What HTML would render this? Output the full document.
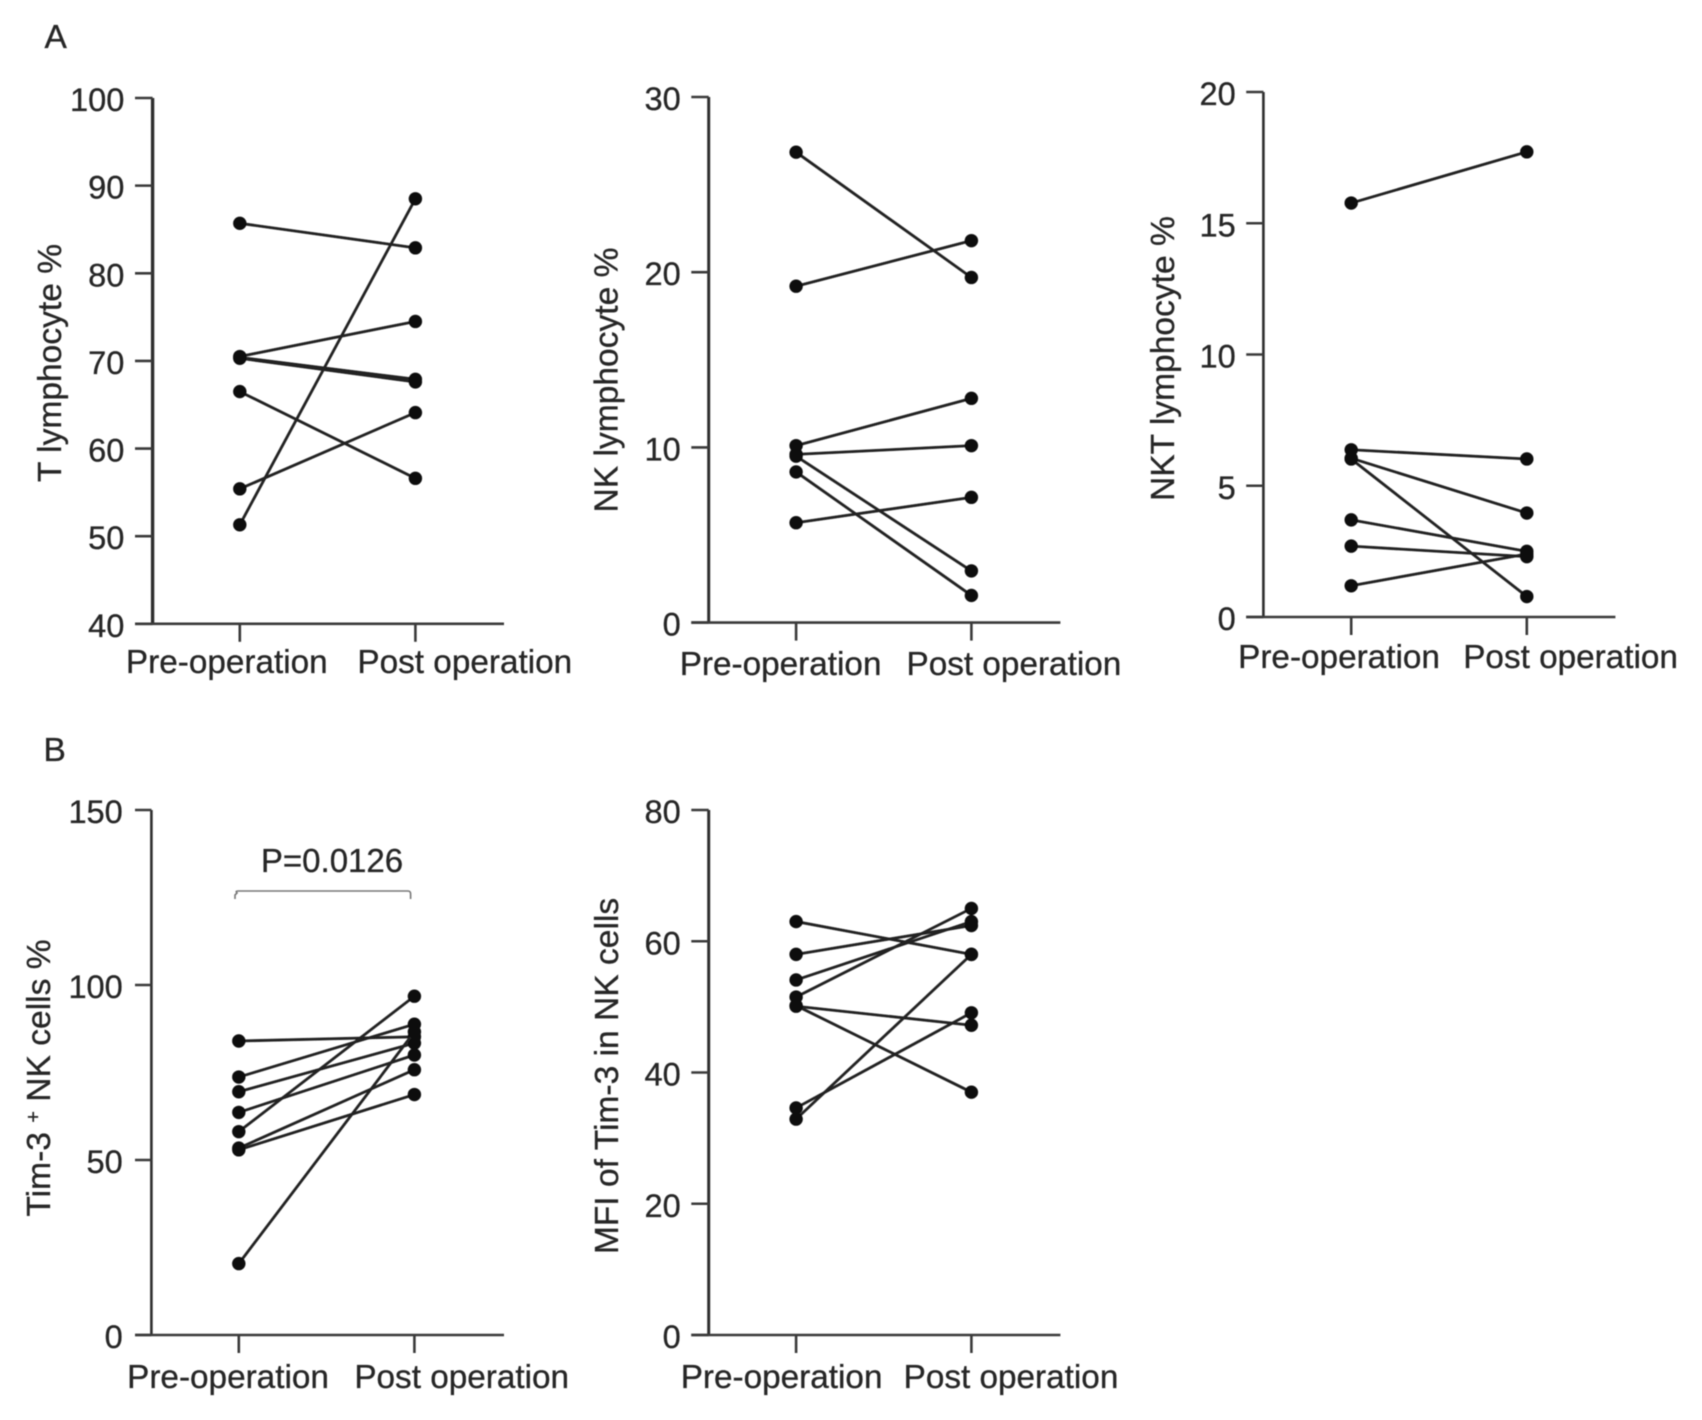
<!DOCTYPE html>
<html lang="en">
<head>
<meta charset="utf-8">
<title>Lymphocyte subsets before and after operation</title>
<style>
  html, body { margin: 0; padding: 0; background: #fff; }
  #figure { display: block; width: 1702px; height: 1420px; }
  #figure text { font-family: "Liberation Sans", Arial, sans-serif; fill: #262626; stroke: #262626; stroke-width: 0.3px; }
</style>
</head>
<body>
<svg id="figure" xmlns="http://www.w3.org/2000/svg" width="1702" height="1420" viewBox="0 0 1702 1420">
  <defs>
    <filter id="soft" x="-5%" y="-5%" width="110%" height="110%"><feGaussianBlur stdDeviation="0.55"/></filter>
  </defs>
  <rect x="0" y="0" width="1702" height="1420" fill="#ffffff"/>
  <g id="canvas" filter="url(#soft)">
    <text x="44.5" y="48" font-size="33.5">A</text>
    <text x="43.5" y="761" font-size="33.5">B</text>
    <path d="M235 899 V895 Q235 895 237 893 L237 893 Q235 891 238 891 H408 Q410.6 891 410.6 894 V899" fill="none" stroke="#777777" stroke-width="1.6"/>
    <text x="332" y="872" font-size="33" text-anchor="middle">P=0.0126</text>
  </g>
</svg>
<script>
// Shared category labels
const categories = ["Pre-operation", "Post operation"];

// Panel A, T lymphocyte %
const tTicks = [40, 50, 60, 70, 80, 90, 100];
const tPre  = [85.7, 51.3, 70.5, 70.4, 70.3, 66.5, 55.4];
const tPost = [82.9, 88.5, 74.5, 67.9, 67.6, 56.6, 64.1];

// Panel A, NK lymphocyte %
const nkTicks = [0, 10, 20, 30];
const nkPre  = [26.85, 19.2, 10.1, 9.6, 9.5, 8.6, 5.7];
const nkPost = [19.7, 21.8, 12.8, 10.1, 2.95, 1.55, 7.15];

// Panel A, NKT lymphocyte %
const nktTicks = [0, 5, 10, 15, 20];
const nktPre  = [15.77, 6.37, 6.05, 6.02, 3.7, 2.7, 1.19];
const nktPost = [17.72, 6.02, 3.96, 0.78, 2.5, 2.3, 2.4];

// Panel B, Tim-3+ NK cells %
const timTicks = [0, 50, 100, 150];
const timPre  = [84, 73.7, 69.5, 63.6, 58.1, 53.4, 52.9, 20.4];
const timPost = [85.2, 88.8, 83.4, 80, 96.8, 75.8, 68.7, 86.6];

// Panel B, MFI of Tim-3 in NK cells
const mfiTicks = [0, 20, 40, 60, 80];
const mfiPre  = [63, 58, 54.1, 51.5, 50.1, 50.2, 34.6, 32.9];
const mfiPost = [58, 62.4, 63, 65, 47.2, 37, 49.1, 58];

const SVGNS = "http://www.w3.org/2000/svg";
const canvas = document.getElementById("canvas");

function make(tag, attrs, parent) {
  const node = document.createElementNS(SVGNS, tag);
  Object.keys(attrs).forEach(function (k) { node.setAttribute(k, attrs[k]); });
  parent.appendChild(node);
  return node;
}

function drawPanel(key, title, ticks, pre, post, box) {
  const yMin = Math.min.apply(null, ticks);
  const yMax = Math.max.apply(null, ticks);
  const yScale = function (v) { return box.top + (yMax - v) / (yMax - yMin) * (box.bottom - box.top); };
  const xScale = function (i) { return i === 0 ? box.x0 : box.x1; };

  const g = make("g", {}, canvas);
  
  

  const yAxis = make("line", { x1: box.axis, x2: box.axis, y1: box.top, y2: box.bottom, stroke: "#2e2e2e", "stroke-width": box.yWidth }, g);
  
  

  const xAxis = make("line", { x1: box.left, x2: box.end, y1: box.bottom, y2: box.bottom, stroke: "#3a3a3a", "stroke-width": 2.6 }, g);
  
  

  ticks.forEach(function (t) {
    const y = yScale(t);
    const tick = make("line", { x1: box.left, x2: box.axis, y1: y, y2: y, stroke: "#3a3a3a", "stroke-width": 2.6 }, g);
    
    
    const label = make("text", { x: box.tickRight, y: y + 13, "font-size": 32.6, "text-anchor": "end" }, g);
    label.textContent = String(t);
    
    
  });

  categories.forEach(function (name, i) {
    const x = xScale(i);
    const tick = make("line", { x1: x, x2: x, y1: box.bottom, y2: box.bottom + 18, stroke: "#3a3a3a", "stroke-width": 2.6 }, g);
    
    
    const label = make("text", { x: box.labels[i], y: box.labelY, "font-size": 33.3, "text-anchor": "middle" }, g);
    label.textContent = name;
    
    
  });

  const yTitle = make("text", { x: 0, y: 0, "font-size": 33.6, "text-anchor": "middle",
    transform: "translate(" + box.titleX + " " + box.titleY + ") rotate(-90)" }, g);
  
  
  if (Array.isArray(title)) {
    make("tspan", {}, yTitle).textContent = title[0];
    make("tspan", { "font-size": 20, dy: -10 }, yTitle).textContent = title[1];
    make("tspan", { dy: 10 }, yTitle).textContent = title[2];
  } else {
    yTitle.textContent = title;
  }

  pre.forEach(function (v, i) {
    const series = make("g", {}, g);
    
    
    const line = make("line", { x1: xScale(0), y1: yScale(v), x2: xScale(1), y2: yScale(post[i]), stroke: "#202020", "stroke-width": 2.8 }, series);
    
    
    const dotPre = make("circle", { cx: xScale(0), cy: yScale(v), r: 6.7, fill: "#0c0c0c" }, series);
    
    
    const dotPost = make("circle", { cx: xScale(1), cy: yScale(post[i]), r: 6.7, fill: "#0c0c0c" }, series);
    
    
  });
}

drawPanel("t-lymphocyte", "T lymphocyte %", tTicks, tPre, tPost, {
  axis: 152.6, left: 135, end: 504, top: 98, bottom: 623.8, x0: 239.8, x1: 415.4, yWidth: 3.4,
  tickRight: 124.4, labels: [226.8, 464.8], labelY: 673, titleX: 61, titleY: 363
});
drawPanel("nk-lymphocyte", "NK lymphocyte %", nkTicks, nkPre, nkPost, {
  axis: 708.7, left: 691.3, end: 1060.4, top: 97, bottom: 622.6, x0: 796.1, x1: 971.4, yWidth: 3,
  tickRight: 680.8, labels: [780.6, 1013.9], labelY: 675, titleX: 617.4, titleY: 380
});
drawPanel("nkt-lymphocyte", "NKT lymphocyte %", nktTicks, nktPre, nktPost, {
  axis: 1263.4, left: 1246.2, end: 1615.4, top: 92, bottom: 617, x0: 1351.2, x1: 1526.8, yWidth: 2.6,
  tickRight: 1235.8, labels: [1339, 1570.6], labelY: 668, titleX: 1173.8, titleY: 358.6
});
drawPanel("tim3-nk", ["Tim-3 ", "+", " NK cells %"], timTicks, timPre, timPost, {
  axis: 151.4, left: 135, end: 504, top: 810, bottom: 1335, x0: 238.8, x1: 414.4, yWidth: 2.6,
  tickRight: 122.8, labels: [228, 461.7], labelY: 1388, titleX: 49.8, titleY: 1078
});
drawPanel("tim3-mfi", "MFI of Tim-3 in NK cells", mfiTicks, mfiPre, mfiPost, {
  axis: 708.7, left: 691.3, end: 1060.4, top: 810, bottom: 1335, x0: 796.1, x1: 971.4, yWidth: 3,
  tickRight: 680.8, labels: [781.6, 1011], labelY: 1388, titleX: 618.2, titleY: 1076
});
</script>
</body>
</html>
